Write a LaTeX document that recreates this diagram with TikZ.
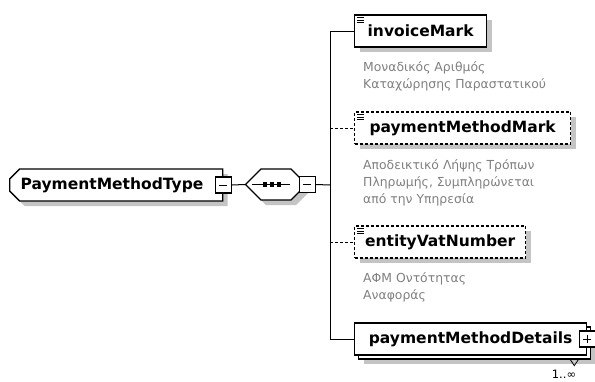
\documentclass[tikz,border=0pt]{standalone}
\usepackage{fontspec}
\setmainfont{DejaVu Sans}
\usepackage{tikz}
\usetikzlibrary{calc,positioning,shapes.misc,shadows}
\definecolor{descgray}{RGB}{128,128,128}
\definecolor{shadowgray}{RGB}{196,196,196}

\begin{document}
\begin{tikzpicture}[x=1pt,y=-1pt,% one unit is one pixel of the diagram, y goes down
			every node/.style={
				inner sep=0pt,		% sizes are set by hand below
				font=\fontsize{15.5}{18}\selectfont\bfseries
			},
			boxshadow/.style={general shadow={fill=shadowgray,shadow xshift=5pt,shadow yshift=-5pt}},
			ctype/.style={chamfered rectangle,chamfered rectangle corners={north west,south west},
				chamfered rectangle xsep=5pt,chamfered rectangle ysep=5pt,draw=black,line width=1.3pt,fill=white,boxshadow},
			seqbox/.style={chamfered rectangle,chamfered rectangle xsep=8pt,chamfered rectangle ysep=9pt,
				inner xsep=24pt,inner ysep=6.5pt,draw=black,line width=1.3pt,fill=white,boxshadow},
			elem/.style={rectangle,draw=black,line width=1.3pt,fill=white,minimum height=32pt,anchor=west,boxshadow},
			optelem/.style={elem,dash pattern=on 3pt off 2pt},
			manyelem/.style={rectangle,draw=black,line width=1.3pt,fill=white,minimum height=32pt,anchor=west,
				general shadow={fill=shadowgray,shadow xshift=9pt,shadow yshift=-9pt},
				copy shadow={shadow xshift=4pt,shadow yshift=-4pt}},
			descr/.style={anchor=base west,align=left,text=descgray,font=\fontsize{12.4}{17}\selectfont},
			toggle/.style={rectangle,draw=black,line width=1.2pt,fill=white,minimum size=16pt},
			minus/.style={toggle,path picture={
				\draw[line width=1pt] ([xshift=-4pt]path picture bounding box.center) -- ([xshift=4pt]path picture bounding box.center);}},
			plus/.style={toggle,path picture={
				\draw[line width=1pt] ([xshift=-4pt]path picture bounding box.center) -- ([xshift=4pt]path picture bounding box.center);
				\draw[line width=1pt] ([yshift=-4pt]path picture bounding box.center) -- ([yshift=4pt]path picture bounding box.center);}},
			link/.style={draw,line width=1pt},
			optlink/.style={link,dash pattern=on 3pt off 2pt}
		]
		\useasboundingbox (0,0) rectangle (595,381);
		% complex type and its sequence
		\node[ctype,anchor=west,text width=191pt,align=left,inner xsep=6pt,minimum height=32pt](R1) at (9,185){PaymentMethodType};
		\node[minus](T1) at (R1.east){};
		\node[seqbox](R2) at (276,184.5){};
		\draw[line width=1pt] ($(R2.center)+(-24,0)$) -- ($(R2.center)+(14,0)$);
		\foreach \dx in {-11,-4,3}
			\fill ($(R2.center)+(\dx,0)$) +(-2.2,-2.2) rectangle +(2.2,2.2);
		\node[minus](T2) at (R2.east){};
		% child elements
		\node[elem,minimum width=132pt](R3) at (354,31){invoiceMark};
		\node[optelem,minimum width=216pt](R4) at (354,128){paymentMethodMark};
		\node[optelem,minimum width=171pt](R5) at (354,242){entityVatNumber};
		\node[manyelem,minimum width=232pt](R6) at (354,339){paymentMethodDetails};
		\node[plus](T6) at (R6.east){};
		\foreach \n in {R3,R4,R5}
			\foreach \dy in {3,5.5,8}
				\draw[line width=0.6pt] ($(\n.north west)+(3,\dy)$) -- ++(7,0);
		\draw[line width=0.8pt] ($(R6.south east)+(-17,4)$) -- ++(4,6) -- ++(4,-6);
		\node[font=\fontsize{11.5}{13}\selectfont,anchor=base](M6) at (564,378){1..∞};
		% annotations (base = last line)
		\node[descr](D3) at (363,88){Μοναδικός Αριθμός\\Καταχώρησης Παραστατικού};
		\node[descr](D4) at (363,203){Αποδεικτικό Λήψης Τρόπων\\Πληρωμής, Συμπληρώνεται\\από την Υπηρεσία};
		\node[descr](D5) at (363,299){ΑΦΜ Οντότητας\\Αναφοράς};
		% connectors
		\coordinate (B) at (330,185);
		\draw[link] (T1.east) -- (R2.west);
		\draw[link] (T2.east) -- (B);
		\draw[link] (B) |- (R3.west);
		\draw[link] (B) |- (R6.west);
		\draw[optlink] (B |- R4.west) -- (R4.west);
		\draw[optlink] (B |- R5.west) -- (R5.west);
	\end{tikzpicture}
\end{document}
